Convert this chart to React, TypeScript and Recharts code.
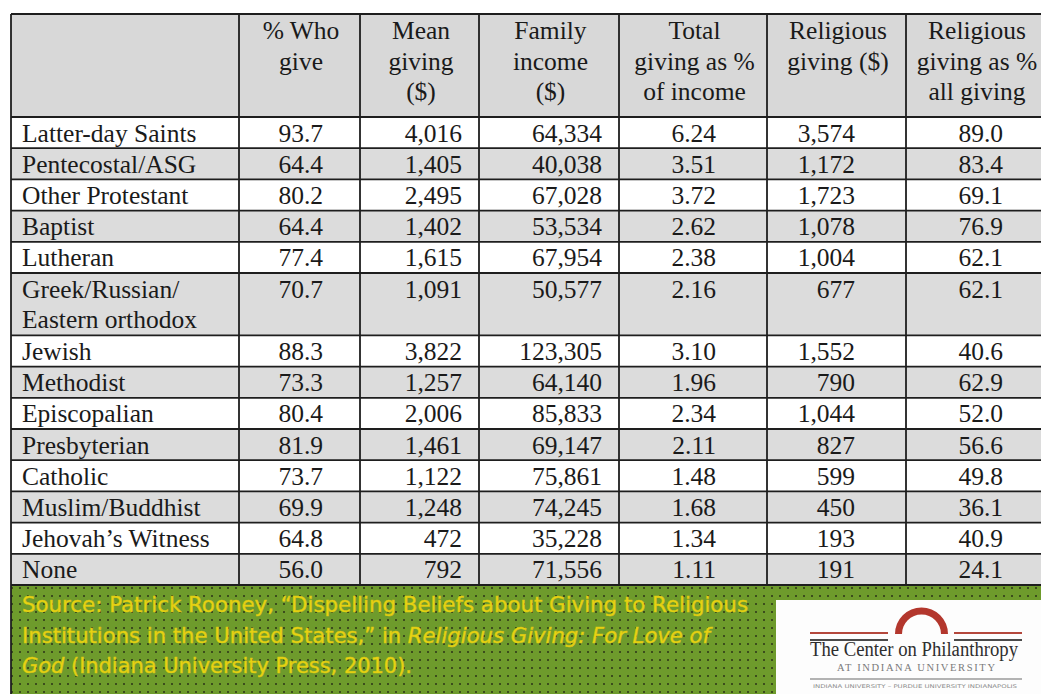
import React from 'react';
import { ComposedChart, XAxis, YAxis, Scatter, ReferenceArea, ReferenceLine } from 'recharts';

// ---------- data ----------
const groups = [
  'Latter-day Saints',
  'Pentecostal/ASG',
  'Other Protestant',
  'Baptist',
  'Lutheran',
  'Greek/Russian/\nEastern orthodox',
  'Jewish',
  'Methodist',
  'Episcopalian',
  'Presbyterian',
  'Catholic',
  'Muslim/Buddhist',
  'Jehovah\u2019s Witness',
  'None',
];
const pctWhoGive = [93.7, 64.4, 80.2, 64.4, 77.4, 70.7, 88.3, 73.3, 80.4, 81.9, 73.7, 69.9, 64.8, 56.0];
const meanGiving = [4016, 1405, 2495, 1402, 1615, 1091, 3822, 1257, 2006, 1461, 1122, 1248, 472, 792];
const familyIncome = [64334, 40038, 67028, 53534, 67954, 50577, 123305, 64140, 85833, 69147, 75861, 74245, 35228, 71556];
const totalGivingPct = [6.24, 3.51, 3.72, 2.62, 2.38, 2.16, 3.10, 1.96, 2.34, 2.11, 1.48, 1.68, 1.34, 1.11];
const religiousGiving = [3574, 1172, 1723, 1078, 1004, 677, 1552, 790, 1044, 827, 599, 450, 193, 191];
const religiousPct = [89.0, 83.4, 69.1, 76.9, 62.1, 62.1, 40.6, 62.9, 52.0, 56.6, 49.8, 36.1, 40.9, 24.1];

const columnHeaders = [
  ['% Who', 'give'],
  ['Mean', 'giving', '($)'],
  ['Family', 'income', '($)'],
  ['Total', 'giving as %', 'of income'],
  ['Religious', 'giving ($)'],
  ['Religious', 'giving as %', 'all giving'],
];

const sourceLines = [
  [{ t: 'Source: Patrick Rooney, \u201cDispelling Beliefs about Giving to Religious' }],
  [{ t: 'Institutions in the United States,\u201d in ' }, { t: 'Religious Giving: For Love of', i: true }],
  [{ t: 'God', i: true }, { t: ' (Indiana University Press, 2010).' }],
];

// ---------- layout ----------
const W = 1041;
const H = 694;
const colEdges = [11, 239, 360, 479, 619, 767, 906, 1048];
const valueRight = [323, 462, 602, 716, 855, 1003];
const headerTop = 14;
const headerBottom = 117;
const rowH = 31.2;
const headerBaselines = [39, 69.5, 100];
const baselineOffset = 24.6;
const lineGap = 30.5;
const nameX = 22;
const sourceX = 22;
const sourceBaselines = [611.5, 643, 673];
const sourceWidths = [726, 688, 390];
const logoBox = { x1: 776, x2: W, y1: 600, y2: H };

const SERIF = '"Liberation Serif", "Times New Roman", Times, serif';
const SANS = '"DejaVu Sans", Verdana, sans-serif';

const formatters = [
  (v: number) => v.toFixed(1),
  (v: number) => v.toLocaleString('en-US'),
  (v: number) => v.toLocaleString('en-US'),
  (v: number) => v.toFixed(2),
  (v: number) => v.toLocaleString('en-US'),
  (v: number) => v.toFixed(1),
];
const columns = [pctWhoGive, meanGiving, familyIncome, totalGivingPct, religiousGiving, religiousPct];

// row geometry
const rowLines = groups.map((g) => g.split('\n').length);
const rowTops: number[] = [];
{
  let y = headerBottom;
  rowLines.forEach((n) => {
    rowTops.push(y);
    y += n * rowH;
  });
  rowTops.push(y);
}
const tableBottom = rowTops[rowTops.length - 1];

type Cell = { x: number; y: number; anchor: string; kind: string; text?: string; len?: number; parts?: { t: string; i?: boolean }[] };
const cells: Cell[] = [];
columnHeaders.forEach((lines, c) => {
  const cx = (colEdges[c + 1] + colEdges[c + 2]) / 2 + (c === 5 ? 0 : 1.5);
  lines.forEach((t, li) => cells.push({ x: cx, y: headerBaselines[li], anchor: 'middle', kind: 'table', text: t }));
});
groups.forEach((g, r) => {
  const base = rowTops[r] + baselineOffset;
  g.split('\n').forEach((t, li) => cells.push({ x: nameX, y: base + li * lineGap, anchor: 'start', kind: 'table', text: t }));
  columns.forEach((col, c) => {
    cells.push({ x: valueRight[c], y: base, anchor: 'end', kind: 'table', text: formatters[c](col[r]) });
  });
});
sourceLines.forEach((parts, li) =>
  cells.push({ x: sourceX, y: sourceBaselines[li], anchor: 'start', kind: 'source', parts, len: sourceWidths[li] })
);

const TextShape = (props: any) => {
  const { cx, cy, payload } = props;
  if (cx == null || cy == null) return null;
  const p: Cell = payload;
  if (p.kind === 'source') {
    return (
      <text
        x={cx}
        y={cy}
        fontFamily={SANS}
        fontSize={21}
        fill="#e8d512"
        stroke="#d9c512"
        strokeWidth={0.5}
        textLength={p.len}
        lengthAdjust="spacingAndGlyphs"
      >
        {p.parts!.map((s, i) => (
          <tspan key={i} fontStyle={s.i ? 'italic' : 'normal'}>{s.t}</tspan>
        ))}
      </text>
    );
  }
  return (
    <text x={cx} y={cy} textAnchor={p.anchor as any} fontFamily={SERIF} fontSize={25.5} fill="#1a1a1a">
      {p.text}
    </text>
  );
};

const FooterShape = (props: any) => {
  const { x, y, width, height } = props;
  return (
    <g>
      <defs>
        <pattern id="dotsPat" x={0} y={0} width={8} height={8} patternUnits="userSpaceOnUse">
          <rect x={0} y={0} width={8} height={8} fill="#6e9b2c" />
          <circle cx={4} cy={4} r={1} fill="#2b3318" />
        </pattern>
      </defs>
      <rect x={x} y={y} width={width} height={height} fill="url(#dotsPat)" />
    </g>
  );
};

const LogoShape = (props: any) => {
  const { x, y, width, height } = props;
  const acx = x + 145.5;
  const acy = y + 34;
  const ro = 26.5;
  const ri = 19.5;
  const arc = `M ${acx - ro} ${acy} A ${ro} ${ro} 0 0 1 ${acx + ro} ${acy} L ${acx + ri} ${acy} A ${ri} ${ri} 0 0 0 ${acx - ri} ${acy} Z`;
  return (
    <g>
      <rect x={x} y={y} width={width} height={height} fill="#fdfdfd" />
      <line x1={x + 34} x2={x + 112} y1={y + 33} y2={y + 33} stroke="#b4473c" strokeWidth={2} />
      <line x1={x + 178} x2={x + 246} y1={y + 33} y2={y + 33} stroke="#b4473c" strokeWidth={2} />
      <line x1={x + 34} x2={x + 112} y1={y + 40} y2={y + 40} stroke="#4a4a4a" strokeWidth={2} />
      <line x1={x + 178} x2={x + 246} y1={y + 40} y2={y + 40} stroke="#4a4a4a" strokeWidth={2} />
      <path d={arc} fill="#b3372d" />
      <text x={x + 34} y={y + 56} fontFamily={SERIF} fontSize={20} fill="#2e2e2e" textLength={208} lengthAdjust="spacingAndGlyphs">
        The Center on Philanthropy
      </text>
      <text x={x + 61} y={y + 71} fontFamily={SERIF} fontSize={10.5} fill="#7a7a7a" textLength={158} lengthAdjust="spacing">
        AT INDIANA UNIVERSITY
      </text>
      <line x1={x + 34} x2={x + 246} y1={y + 79} y2={y + 79} stroke="#9a9a9a" strokeWidth={1.5} />
      <text x={x + 37} y={y + 87.5} fontFamily={SANS} fontSize={5} fill="#8a8a8a" textLength={204} lengthAdjust="spacingAndGlyphs">
        INDIANA UNIVERSITY – PURDUE UNIVERSITY INDIANAPOLIS
      </text>
    </g>
  );
};

const LINE = '#1e1e1e';
const LW = 1.8;

export default function App() {
  const hLines = [headerTop, headerBottom, ...rowTops.slice(1)];
  const vEdges = colEdges.filter((e) => e < W);
  return (
    <div style={{ position: 'absolute', left: 0, top: 0, width: W, height: H, background: '#ffffff' }}>
      <ComposedChart width={W} height={H} margin={{ top: 0, right: 0, bottom: 0, left: 0 }}>
        <XAxis type="number" dataKey="x" domain={[0, W]} allowDataOverflow hide />
        <YAxis type="number" dataKey="y" domain={[0, H]} allowDataOverflow reversed hide />

        {/* header background */}
        <ReferenceArea x1={colEdges[0]} x2={W} y1={headerTop} y2={headerBottom} fill="#d8d8d8" fillOpacity={1} stroke="none" ifOverflow="visible" />
        {/* zebra rows */}
        {groups.map((g, r) => (
          <ReferenceArea
            key={'row' + r}
            x1={colEdges[0]}
            x2={W}
            y1={rowTops[r]}
            y2={rowTops[r + 1]}
            fill={r % 2 === 1 ? '#dcdcdc' : '#ffffff'}
            fillOpacity={1}
            stroke="none"
            ifOverflow="visible"
          />
        ))}
        {/* source footer */}
        <ReferenceArea x1={colEdges[0]} x2={W} y1={tableBottom} y2={H} shape={FooterShape} ifOverflow="visible" />
        <ReferenceArea x1={logoBox.x1} x2={logoBox.x2} y1={logoBox.y1} y2={logoBox.y2} shape={LogoShape} ifOverflow="visible" />

        {/* grid lines */}
        {hLines.map((y, i) => (
          <ReferenceLine
            key={'h' + i}
            segment={[{ x: colEdges[0], y }, { x: W, y }]}
            stroke={LINE}
            strokeWidth={LW}
            ifOverflow="visible"
          />
        ))}
        {vEdges.map((x, i) => (
          <ReferenceLine
            key={'v' + i}
            segment={[{ x, y: headerTop }, { x, y: i === 0 ? H : tableBottom }]}
            stroke={LINE}
            strokeWidth={LW}
            ifOverflow="visible"
          />
        ))}

        <Scatter data={cells} dataKey="y" shape={TextShape} isAnimationActive={false} />
      </ComposedChart>
    </div>
  );
}
